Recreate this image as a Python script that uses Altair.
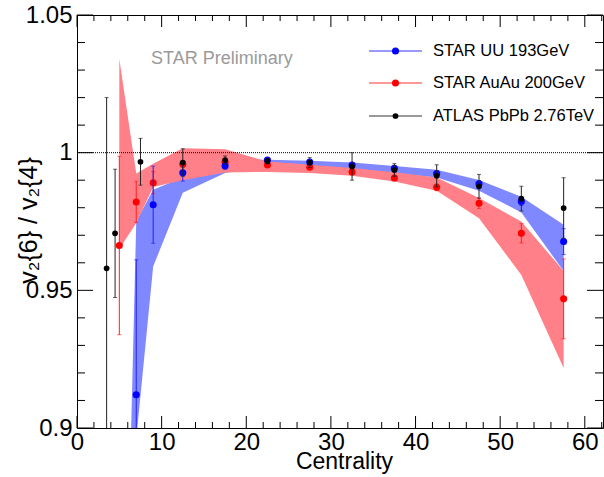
import altair as alt
import pandas as pd

FONT = "Liberation Sans"

# ---------------- data ----------------
# STAR U+U 193 GeV: v2{6}/v2{4} with statistical errors
uu_cent = [7, 9, 12.5, 17.5, 22.5, 27.5, 32.5, 37.5, 42.5, 47.5, 52.5, 57.5]
uu_ratio = [0.9121, 0.9811, 0.9927, 0.9952, 0.9973, 0.9966, 0.9955, 0.9943, 0.9924, 0.9887, 0.9823, 0.9677]
uu_stat = [0.049, 0.014, 0.003, 0.0012, 0.0008, 0.0008, 0.0008, 0.0008, 0.001, 0.0012, 0.0015, 0.0047]
# systematic band
uu_sys_cent = [5, 7, 9, 12.5, 17.5, 22.5, 27.5, 32.5, 37.5, 42.5, 47.5, 52.5, 57.5]
uu_sys_low = [0.700, 0.896, 0.9587, 0.9854, 0.9926, 0.9955, 0.9950, 0.9935, 0.9925, 0.9910, 0.9862, 0.9783, 0.9570]
uu_sys_high = [0.725, 0.975, 0.9865, 0.9910, 0.9975, 0.9974, 0.9971, 0.9964, 0.9952, 0.9938, 0.9901, 0.9840, 0.9738]

# STAR Au+Au 200 GeV
au_cent = [5, 7, 9, 12.5, 17.5, 22.5, 27.5, 32.5, 37.5, 42.5, 47.5, 52.5, 57.5]
au_ratio = [0.9663, 0.9821, 0.9891, 0.9958, 0.9965, 0.9955, 0.9947, 0.9930, 0.9908, 0.9874, 0.9816, 0.9707, 0.9469]
au_stat = [0.0324, 0.0075, 0.004, 0.0012, 0.001, 0.0008, 0.0008, 0.001, 0.001, 0.0012, 0.0019, 0.0035, 0.0145]
au_sys_cent = [5, 7, 9, 12.5, 17.5, 22.5, 27.5, 32.5, 37.5, 42.5, 47.5, 52.5, 57.5]
au_sys_low = [0.965, 0.9745, 0.9875, 0.9900, 0.9928, 0.9930, 0.9926, 0.9916, 0.9895, 0.9862, 0.9762, 0.9556, 0.9218]
au_sys_high = [1.034, 0.9924, 0.9960, 1.0016, 1.0012, 0.9968, 0.9956, 0.9944, 0.9929, 0.9910, 0.9835, 0.9750, 0.9570]

# ATLAS Pb+Pb 2.76 TeV
atlas_cent = [3.5, 4.5, 7.5, 12.5, 17.5, 22.5, 27.5, 32.5, 37.5, 42.5, 47.5, 52.5, 57.5]
atlas_ratio = [0.958, 0.9707, 0.9967, 0.9964, 0.9973, 0.9969, 0.9964, 0.9950, 0.9937, 0.9916, 0.9878, 0.9833, 0.9799]
atlas_err = [0.062, 0.0233, 0.0085, 0.005, 0.0015, 0.001, 0.0018, 0.005, 0.0023, 0.004, 0.0043, 0.0045, 0.011]

series_names = ["STAR UU 193GeV", "STAR AuAu 200GeV", "ATLAS PbPb 2.76TeV"]
series_colors = ["#0000ff", "#ff0000", "#000000"]
band_colors = ["#8088ff", "#ff8088"]

x_major = [0, 10, 20, 30, 40, 50, 60]
x_minor = [v for v in range(0, 63, 2) if v % 10 != 0]
y_major = [0.9, 0.95, 1.0, 1.05]
y_minor = [round(0.9 + 0.01 * i, 2) for i in range(16) if i % 5 != 0]

# ---------------- layout ----------------
W, H = 526, 413

xscale = alt.Scale(domain=[0, 62.15], nice=False, zero=False)
yscale = alt.Scale(domain=[0.9, 1.05], nice=False, zero=False)

xaxis = alt.Axis(
    values=x_major, format="d", ticks=False, domain=False, grid=False,
    labelFont=FONT, labelFontSize=24, labelColor="black", labelPadding=2,
    labelFlush=False, labelOverlap=False,
    title="Centrality", titleFont=FONT, titleFontSize=23, titleFontWeight="normal",
    titleColor="black", titleX=267, titleY=40, titleAlign="center",
    titleBaseline="alphabetic",
)
yaxis = alt.Axis(
    values=y_major, format="~g", ticks=False, domain=False, grid=False,
    labelFont=FONT, labelFontSize=24, labelColor="black", labelPadding=5,
    labelFlush=False, labelOverlap=False,
    title="v\u2082{6} / v\u2082{4}", titleFont=FONT, titleFontSize=25,
    titleFontWeight="normal", titleColor="black", titleAngle=270,
    titleX=-49, titleY=205, titleAlign="center", titleBaseline="middle",
)


def X(field):
    return alt.X(field, type="quantitative", scale=xscale, axis=xaxis)


def Y(field):
    return alt.Y(field, type="quantitative", scale=yscale, axis=yaxis)


def points_frame(cent, ratio, err):
    return pd.DataFrame({
        "c": cent,
        "r": ratio,
        "lo": [r - e for r, e in zip(ratio, err)],
        "hi": [r + e for r, e in zip(ratio, err)],
    })


def band(cent, low, high, color):
    df = pd.DataFrame({"c": cent, "lo": low, "hi": high})
    return alt.Chart(df).mark_area(color=color, opacity=1, clip=True).encode(
        x=X("c"), y=Y("lo"), y2="hi"
    )


def errbars(df, color, size, bar_color):
    bars = alt.Chart(df).mark_rule(color=bar_color, strokeWidth=1, clip=True).encode(
        x=X("c"), y=Y("lo"), y2="hi"
    )
    cap_lo = alt.Chart(df).mark_tick(color=bar_color, orient="horizontal", size=4,
                                     thickness=1, clip=True).encode(x=X("c"), y=Y("lo"))
    cap_hi = alt.Chart(df).mark_tick(color=bar_color, orient="horizontal", size=4,
                                     thickness=1, clip=True).encode(x=X("c"), y=Y("hi"))
    dots = alt.Chart(df).mark_circle(color=color, opacity=1, size=size, clip=True).encode(
        x=X("c"), y=Y("r")
    )
    return [bars, cap_lo, cap_hi, dots]


uu_df = points_frame(uu_cent, uu_ratio, uu_stat)
au_df = points_frame(au_cent, au_ratio, au_stat)
atlas_df = points_frame(atlas_cent, atlas_ratio, atlas_err)

# reference line at unity
unity = alt.Chart(pd.DataFrame({"r": [1.0]})).mark_rule(
    color="black", strokeWidth=1, strokeDash=[1, 1]
).encode(y=Y("r"), x=alt.value(0), x2=alt.value(W))


# ROOT-style inward ticks on all four sides
def xticks(vals, length):
    df = pd.DataFrame({"t": vals})
    bottom = alt.Chart(df).mark_rule(color="black", strokeWidth=1).encode(
        x=X("t"), y=alt.value(H), y2=alt.value(H - length))
    top = alt.Chart(df).mark_rule(color="black", strokeWidth=1).encode(
        x=X("t"), y=alt.value(0), y2=alt.value(length))
    return [bottom, top]


def yticks(vals, length):
    df = pd.DataFrame({"t": vals})
    left = alt.Chart(df).mark_rule(color="black", strokeWidth=1).encode(
        y=Y("t"), x=alt.value(0), x2=alt.value(length))
    right = alt.Chart(df).mark_rule(color="black", strokeWidth=1).encode(
        y=Y("t"), x=alt.value(W), x2=alt.value(W - length))
    return [left, right]


# legend drawn by hand (line with marker, then label)
legend_layers = []
legend_rows = [36, 68, 101]
legend_sizes = [50, 50, 33]
for name, col, ry, sz in zip(series_names, series_colors, legend_rows, legend_sizes):
    ldf = pd.DataFrame({"label": [name]})
    legend_layers.append(alt.Chart(ldf).mark_rule(color=col, strokeWidth=1, opacity=0.8).encode(
        x=alt.value(292), x2=alt.value(345), y=alt.value(ry)))
    legend_layers.append(alt.Chart(ldf).mark_circle(color=col, opacity=1, size=sz).encode(
        x=alt.value(318.5), y=alt.value(ry)))
    legend_layers.append(alt.Chart(ldf).mark_text(
        align="left", baseline="middle", font=FONT, fontSize=16.5, color="black"
    ).encode(x=alt.value(356), y=alt.value(ry), text="label:N"))

prelim = alt.Chart(pd.DataFrame({"t": ["STAR Preliminary"]})).mark_text(
    align="left", baseline="middle", font=FONT, fontSize=18, color="#9a9a9a"
).encode(x=alt.value(74), y=alt.value(44), text="t:N")

layers = [
    band(uu_sys_cent, uu_sys_low, uu_sys_high, band_colors[0]),
    band(au_sys_cent, au_sys_low, au_sys_high, band_colors[1]),
    unity,
    *errbars(au_df, series_colors[1], 50, "#ff2020"),
    *errbars(uu_df, series_colors[0], 50, "#2020ff"),
    *errbars(atlas_df, series_colors[2], 33, "#222222"),
    *xticks(x_major, 12), *xticks(x_minor, 6),
    *yticks(y_major, 16), *yticks(y_minor, 8),
    prelim,
    *legend_layers,
]

chart = alt.layer(*layers).properties(
    width=W, height=H,
    padding={"left": 77, "top": 15, "right": 1, "bottom": 49},
    autosize=alt.AutoSizeParams(type="none"),
    background="white",
).configure_view(stroke="black", strokeWidth=1)

chart.save("out.html", embed_options={"renderer": "svg", "actions": False})
